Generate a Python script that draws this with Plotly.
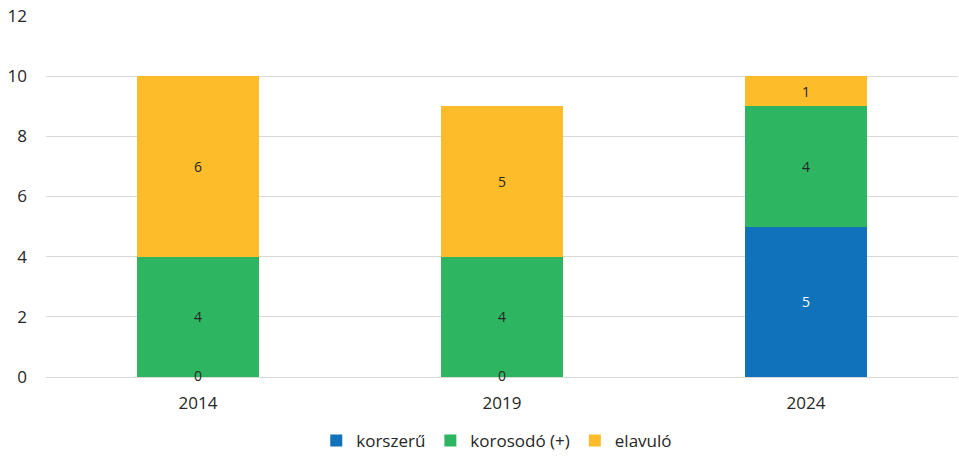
import plotly.graph_objects as go

years = ["2014", "2019", "2024"]
korszeru = [0, 0, 5]
korosodo = [4, 4, 4]
elavulo = [6, 5, 1]

series = [
    ("korszerű", korszeru, "#0F72BA", "#FFFFFF"),
    ("korosodó (+)", korosodo, "#2EB562", "#262626"),
    ("elavuló", elavulo, "#FDBD2A", "#262626"),
]

FONT = "Open Sans"
fig = go.Figure()

for name, vals, color, tcolor in series:
    fig.add_trace(go.Bar(
        x=years, y=vals, name=name,
        marker=dict(color=color, line=dict(width=0)),
        text=[str(v) if v else "" for v in vals],
        textposition="inside", insidetextanchor="middle",
        textangle=0,
        textfont=dict(family=FONT, size=14, color=tcolor),
        hoverinfo="skip",
    ))

# zero-height segments still get their value written at the baseline
for name, vals, color, tcolor in series:
    zx = [x for x, v in zip(years, vals) if v == 0]
    if zx:
        fig.add_trace(go.Scatter(
            x=zx, y=[0] * len(zx), mode="text",
            text=["0"] * len(zx), textposition="middle center",
            textfont=dict(family=FONT, size=14, color="#262626"),
            showlegend=False, hoverinfo="skip", cliponaxis=False,
        ))

fig.update_layout(
    barmode="stack",
    bargap=0.6,
    width=959, height=456,
    margin=dict(l=46, r=1, t=16, b=79, autoexpand=False),
    plot_bgcolor="white", paper_bgcolor="white",
    font=dict(family=FONT, size=16, color="#262626"),
    showlegend=True,
    legend=dict(orientation="h", x=0.518, xref="container", xanchor="center",
                y=0.033, yref="container", yanchor="middle",
                font=dict(size=17), itemwidth=30, traceorder="normal"),
    xaxis=dict(showgrid=False, showline=False, ticks="", tickfont=dict(size=17),
               ticklabelstandoff=14),
    yaxis=dict(range=[0, 12], dtick=2, showgrid=True, gridcolor="#D9D9D9",
               gridwidth=1, zeroline=True, zerolinecolor="#D9D9D9", zerolinewidth=1,
               showline=False, ticks="", tickfont=dict(size=17), ticklabelstandoff=18),
)

fig.write_html("out.html")
